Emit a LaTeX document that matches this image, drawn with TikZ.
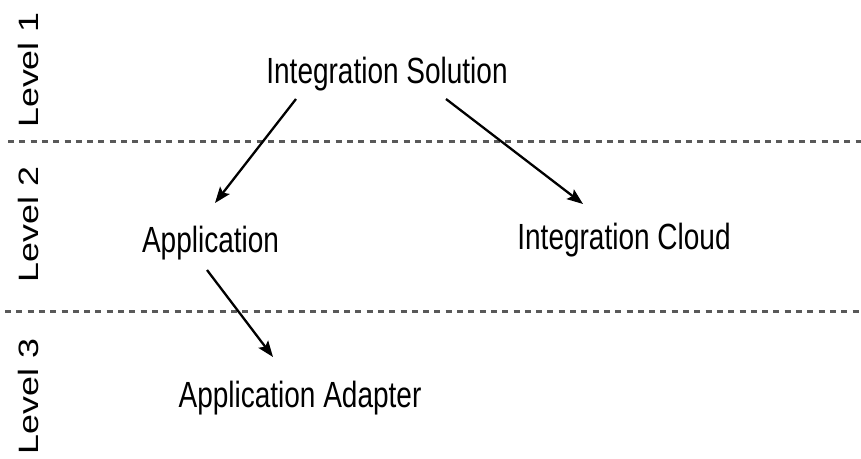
\documentclass[tikz,border=0pt]{standalone}
\usepackage{fontspec}
\setmainfont{Liberation Sans}
\usetikzlibrary{arrows.meta}
\tikzset{
  lbl/.style={anchor=base, inner sep=0pt, font=\fontsize{28}{30}\selectfont},
  levellbl/.style={anchor=base, inner sep=0pt, rotate=90, font=\fontsize{28}{30}\selectfont},
  divider/.style={line width=3pt, black!65, dash pattern=on 6pt off 5.3pt},
  link/.style={line width=2.3pt, -{Stealth[length=16pt,width=12pt,inset=3pt]}}
}
\newcommand{\tall}[1]{\scalebox{1}[1.3]{#1}}
\newcommand{\longer}[1]{\scalebox{1.28}[1]{#1}}
\begin{document}
\begin{tikzpicture}[x=1pt,y=-1pt]
  \useasboundingbox (0,0) rectangle (861,458);
  \fill[white] (0,0) rectangle (861,458);

  % level dividers
  \coordinate (d1a) at (8,141);
  \coordinate (d1b) at (861,141);
  \coordinate (d2a) at (5,311);
  \coordinate (d2b) at (861,311);
  \draw[divider] (d1a) -- (d1b);
  \draw[divider] (d2a) -- (d2b);

  % level captions
  \node[levellbl] (lv1) at (38,70) {\longer{Level 1}};
  \node[levellbl] (lv2) at (38,224.5) {\longer{Level 2}};
  \node[levellbl] (lv3) at (38,396.5) {\longer{Level 3}};

  % elements
  \node[lbl] (sol) at (387,83) {\tall{Integration Solution}};
  \node[lbl] (app) at (210.5,252) {\tall{Application}};
  \node[lbl] (cloud) at (624,249) {\tall{Integration Cloud}};
  \node[lbl] (adapter) at (300,407) {\tall{Application Adapter}};

  % connector end points
  \coordinate (solL) at (296,99);
  \coordinate (solR) at (446,99);
  \coordinate (appTop) at (215,203);
  \coordinate (cloudTop) at (583,204);
  \coordinate (appBot) at (207,270);
  \coordinate (adapterTop) at (273,357);

  \draw[link] (solL) -- (appTop);
  \draw[link] (solR) -- (cloudTop);
  \draw[link] (appBot) -- (adapterTop);
\end{tikzpicture}
\end{document}
